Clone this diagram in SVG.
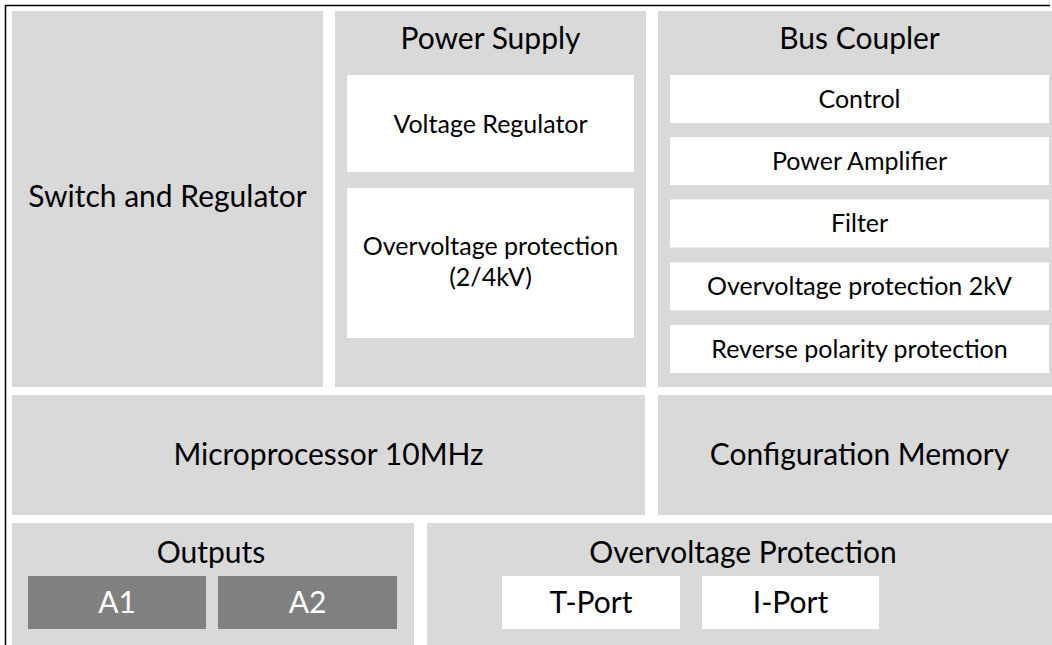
<svg xmlns="http://www.w3.org/2000/svg" width="1052" height="645" viewBox="0 0 1052 645">
<style>
.panel{fill:#D9D9D9}
.box{fill:#FFFFFF}
.dark{fill:#808080}
text{font-family:Lato,"Open Sans","Liberation Sans",sans-serif;fill:#000;text-anchor:middle}
.t{font-size:30px}
.s{font-size:25px}
.w{fill:#FFFFFF}
</style>
<rect x="0" y="0" width="1052" height="645" fill="#FFFFFF"/>
<path d="M5.5,645 V5.5 H1050" fill="none" stroke="#000" stroke-width="1.5"/>
<g id="switch-regulator">
<rect class="panel" x="12" y="11" width="311" height="376"/>
<text class="t" x="167.5" y="207">Switch and Regulator</text>
</g>
<g id="power-supply">
<rect class="panel" x="335" y="11" width="311" height="376"/>
<text class="t" x="490.5" y="49">Power Supply</text>
</g>
<g id="voltage-regulator">
<rect class="box" x="347" y="75" width="287" height="97"/>
<text class="s" x="490.5" y="132.5">Voltage Regulator</text>
</g>
<g id="overvoltage-ps">
<rect class="box" x="347" y="188" width="287" height="150"/>
<text class="s" x="490.5" y="255">Overvoltage protection</text>
<text class="s" x="490.5" y="286">(2/4kV)</text>
</g>
<g id="bus-coupler">
<rect class="panel" x="658" y="11" width="403" height="376"/>
<text class="t" x="859.5" y="49">Bus Coupler</text>
</g>
<g id="control">
<rect class="box" x="670" y="75" width="379" height="48"/>
<text class="s" x="859.5" y="107.5">Control</text>
</g>
<g id="power-amplifier">
<rect class="box" x="670" y="137" width="379" height="48"/>
<text class="s" x="859.5" y="169.5">Power Amplifier</text>
</g>
<g id="filter">
<rect class="box" x="670" y="199.5" width="379" height="48"/>
<text class="s" x="859.5" y="232">Filter</text>
</g>
<g id="overvoltage-bc">
<rect class="box" x="670" y="262.5" width="379" height="48"/>
<text class="s" x="859.5" y="295">Overvoltage protection 2kV</text>
</g>
<g id="reverse-polarity">
<rect class="box" x="670" y="325" width="379" height="48"/>
<text class="s" x="859.5" y="357.5">Reverse polarity protection</text>
</g>
<g id="microprocessor">
<rect class="panel" x="12" y="395" width="633" height="120"/>
<text class="t" x="328.5" y="465">Microprocessor 10MHz</text>
</g>
<g id="configuration-memory">
<rect class="panel" x="658" y="395" width="403" height="120"/>
<text class="t" x="859.5" y="465">Configuration Memory</text>
</g>
<g id="outputs">
<rect class="panel" x="12" y="523" width="402" height="130"/>
<text class="t" x="211" y="563">Outputs</text>
</g>
<g id="a1">
<rect class="dark" x="28" y="576" width="178" height="53"/>
<text class="t w" x="117" y="613">A1</text>
</g>
<g id="a2">
<rect class="dark" x="218" y="576" width="179" height="53"/>
<text class="t w" x="307.5" y="613">A2</text>
</g>
<g id="overvoltage-protection">
<rect class="panel" x="427" y="523" width="634" height="130"/>
<text class="t" x="743" y="563">Overvoltage Protection</text>
</g>
<g id="t-port">
<rect class="box" x="502" y="576" width="178" height="53"/>
<text class="t" x="591" y="613">T-Port</text>
</g>
<g id="i-port">
<rect class="box" x="702" y="576" width="177" height="53"/>
<text class="t" x="790.5" y="613">I-Port</text>
</g>
<g id="connectors"></g>
</svg>
